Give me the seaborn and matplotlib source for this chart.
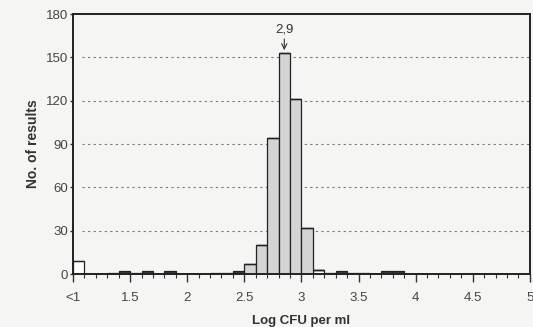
import numpy as np
import pandas as pd
import matplotlib.pyplot as plt
import seaborn as sns
from matplotlib.ticker import MultipleLocator, FixedLocator

# lower edge of each 0.1 log bin (1.0 bin is the "<1" class)
bin_start = [1.0, 1.1, 1.2, 1.3, 1.4, 1.5, 1.6, 1.7, 1.8, 1.9,
             2.0, 2.1, 2.2, 2.3, 2.4, 2.5, 2.6, 2.7, 2.8, 2.9,
             3.0, 3.1, 3.2, 3.3, 3.4, 3.5, 3.6, 3.7, 3.8, 3.9]
counts = [9, 0, 0, 1, 2, 1, 2, 0, 2, 0,
          0, 0, 1, 1, 2, 7, 20, 94, 153, 121,
          32, 3, 1, 2, 1, 1, 0, 2, 2, 0]
group = ['below'] + ['tail'] * 14 + ['main'] * 6 + ['edge'] + ['tail'] * 8

xtick_pos = [1.0, 1.5, 2.0, 2.5, 3.0, 3.5, 4.0, 4.5, 5.0]
xtick_lab = ['<1', '1.5', '2', '2.5', '3', '3.5', '4', '4.5', '5']
ytick_pos = [0, 30, 60, 90, 120, 150, 180]

df = pd.DataFrame({'log_cfu': np.array(bin_start) + 0.05, 'n': counts, 'group': group})

sns.set_style('ticks')
plt.rcParams['font.family'] = ['Liberation Sans', 'DejaVu Sans']

bg = '#f5f5f3'
fig = plt.figure(figsize=(5.33, 3.27), dpi=100, facecolor=bg)
ax = fig.add_axes([0.137, 0.162, 0.857, 0.795], facecolor=bg)

pal = {'below': 'white', 'edge': 'white', 'main': '#d4d4d4', 'tail': '#3a3a3a'}
sns.histplot(data=df, x='log_cfu', weights='n', hue='group', multiple='stack',
             binwidth=0.1, binrange=(1, 5), palette=pal, hue_order=['tail', 'below', 'main', 'edge'],
             edgecolor='#222222', linewidth=0.9, alpha=1, legend=False, ax=ax)

ax.set_xlim(1, 5)
ax.set_ylim(0, 180)
ax.xaxis.set_major_locator(FixedLocator(xtick_pos))
ax.set_xticklabels(xtick_lab)
ax.xaxis.set_minor_locator(MultipleLocator(0.1))
ax.set_yticks(ytick_pos)

for y in ytick_pos[1:-1]:
    ax.axhline(y, xmin=0.02, color='#777777', lw=0.8, ls=(0, (2, 3)), zorder=0)
ax.set_axisbelow(True)

ax.tick_params(axis='x', which='major', length=6, width=1, color='#333333',
               labelsize=9.5, labelcolor='#444444', pad=7)
ax.tick_params(axis='x', which='minor', length=3, width=0.8, color='#333333')
ax.tick_params(axis='y', length=2, width=1, color='#333333',
               labelsize=9.5, labelcolor='#444444', pad=1.5)
for s in ax.spines.values():
    s.set_linewidth(1.4)
    s.set_color('#222222')

ax.set_xlabel('Log CFU per ml', fontsize=9.5, fontweight='bold', color='#333333', labelpad=8)
ax.set_ylabel('No. of results', fontsize=10, fontweight='bold', color='#333333', labelpad=4)

ax.annotate('2,9', xy=(2.85, 155), xytext=(2.85, 165), ha='center', va='bottom',
            fontsize=9.5, color='#333333',
            arrowprops=dict(arrowstyle='->', lw=0.8, color='#333333', shrinkA=0, shrinkB=0))

fig.savefig('out.png', dpi=100, facecolor=bg)
